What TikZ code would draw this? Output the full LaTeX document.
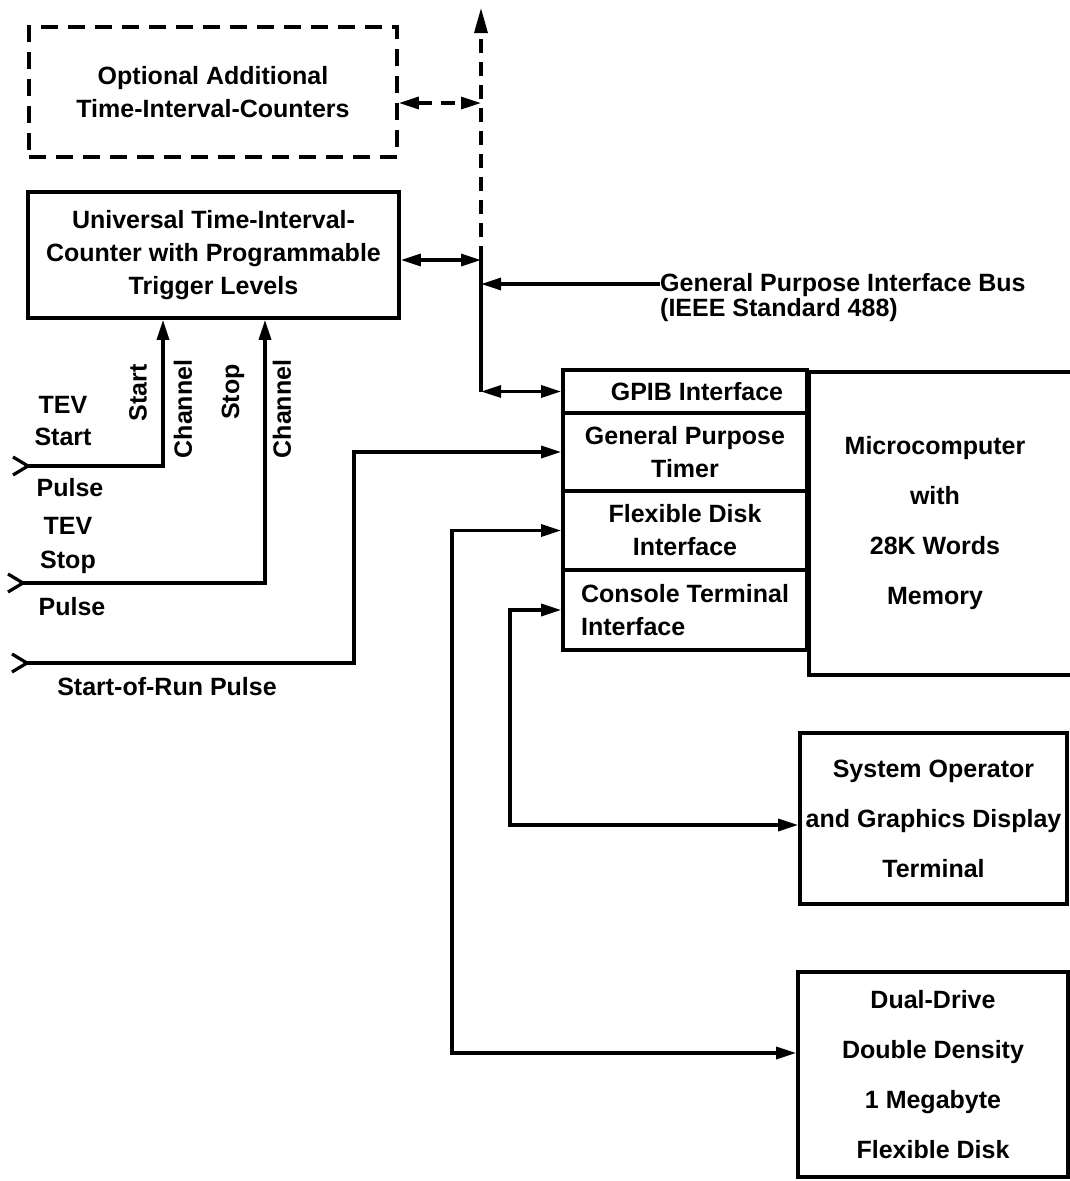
\documentclass[tikz,border=0pt]{standalone}
\usepackage{fontspec}
\setmainfont{Liberation Sans}
\usetikzlibrary{arrows.meta}
\begin{document}
\begin{tikzpicture}[x=1pt,y=-1pt,
  every node/.style={font=\fontsize{25}{33}\selectfont\bfseries, inner sep=0pt},
  wide/.style={font=\fontsize{25}{50}\selectfont\bfseries},
  box/.style={draw, line width=3.6pt, align=center},
  dbox/.style={box, dash pattern=on 17pt off 10pt},
  conn/.style={line width=3.2pt},
  dconn/.style={conn, dash pattern=on 14pt off 9pt},
  >={Triangle[length=20pt,width=12pt]}]
\path[use as bounding box, clip] (0,0) rectangle (1070,1181);

% boxes
\node[dbox, minimum width=368pt, minimum height=130pt] (opt) at (213,92) {Optional Additional\\Time-Interval-Counters};
\node[box, minimum width=371pt, minimum height=126pt] (utic) at (213.5,255) {Universal Time-Interval-\\Counter with Programmable\\Trigger Levels};

\node[box, minimum width=244pt, minimum height=43pt] (row1) at (685,391.5) {\hspace*{24pt}GPIB Interface};
\node[box, minimum width=244pt, minimum height=78pt] (row2) at (685,452) {General Purpose\\Timer};
\node[box, minimum width=244pt, minimum height=79pt] (row3) at (685,530.5) {Flexible Disk\\Interface};
\node[draw, line width=3.6pt, align=left, minimum width=244pt, minimum height=80pt] (row4) at (685,610) {Console Terminal\\Interface};
\node[draw, line width=3.6pt, minimum width=290pt, minimum height=303pt, anchor=north west] (mcbox) at (807,370) {};
\node[wide, align=center] (mctext) at (935,523) {Microcomputer\\with\\28K Words\\Memory};

\node[box, wide, minimum width=267pt, minimum height=171pt] (sys) at (933.5,818.5) {System Operator\\and Graphics Display\\Terminal};
\node[box, wide, minimum width=270pt, minimum height=205pt] (disk) at (933,1074.5) {Dual-Drive\\Double Density\\1 Megabyte\\Flexible Disk};

% bus
\coordinate (busTop) at (481,8);
\coordinate (busOpt) at (481,103);
\coordinate (busUtic) at (481,260);
\coordinate (busIn) at (481,284);
\coordinate (busBot) at (481,391.5);
\draw[dconn, -{Triangle[length=25pt,width=13pt]}] (busUtic) -- (busTop);
\draw[conn] (busUtic) -- (busBot);
\draw[dconn, <->] (opt.east |- busOpt) -- (busOpt);
\draw[conn, <->] (utic.east |- busUtic) -- (busUtic);
\draw[conn, <->] (busBot) -- (row1.west);
\node[anchor=west, align=left, font=\fontsize{25}{25}\selectfont\bfseries] (gpibus) at (660,297.5) {General Purpose Interface Bus\\(IEEE Standard 488)};
\draw[conn, ->] (gpibus.west |- busIn) -- (busIn);

% inputs
\coordinate (inStart) at (28,466);
\coordinate (inStop) at (23,583);
\coordinate (inRun) at (27,663);
\coordinate (chA) at (163,466);
\coordinate (chB) at (265,583);
\coordinate (runA) at (354,663);
\draw[conn] (inStart) ++(-15,-9) -- (inStart) -- ++(-15,9);
\draw[conn] (inStop) ++(-15,-9) -- (inStop) -- ++(-15,9);
\draw[conn] (inRun) ++(-15,-9) -- (inRun) -- ++(-15,9);
\draw[conn, ->] (inStart) -- (chA) -- (chA |- utic.south);
\draw[conn, ->] (inStop) -- (chB) -- (chB |- utic.south);
\draw[conn, ->] (inRun) -- (runA) |- (row2.west);

% peripherals
\coordinate (flexX) at (452,1053);
\coordinate (conX) at (510,825);
\draw[conn, <->] (row3.west) -| (flexX) -- (flexX -| disk.west);
\draw[conn, <->] (row4.west) -| (conX) -- (conX -| sys.west);

% labels
\node[font=\fontsize{25}{32}\selectfont\bfseries, align=center] (tevA) at (63,421) {TEV\\Start};
\node (pulseA) at (70,488) {Pulse};
\node[font=\fontsize{25}{34}\selectfont\bfseries, align=center] (tevB) at (68,545) {TEV\\Stop};
\node (pulseB) at (72,607) {Pulse};
\node[rotate=90] (lblStart) at (138,393) {Start};
\node[rotate=90] (lblChA) at (183,409) {Channel};
\node[rotate=90] (lblStop) at (233,392) {Stop};
\node[rotate=90] (lblChB) at (282,409) {Channel};
\node (lblRun) at (167,687) {Start-of-Run Pulse};
\end{tikzpicture}
\end{document}
